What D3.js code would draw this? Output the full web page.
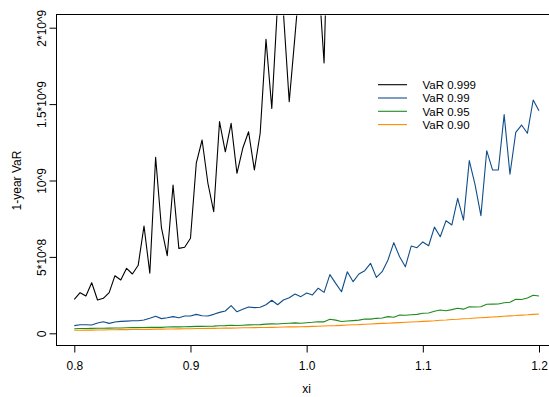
<!DOCTYPE html>
<html lang="en">
<head>
<meta charset="UTF-8">
<title>1-year VaR vs xi</title>
<script src="https://d3js.org/d3.v7.min.js"></script>
<style>
  body { margin: 0; background: #fff; }
  text { font-family: "Liberation Sans", Arial, sans-serif; fill: #000; }
</style>
</head>
<body>
<script>
// x grid (xi)
const xi = [0.800,0.805,0.810,0.815,0.820,0.825,0.830,0.835,0.840,0.845,
            0.850,0.855,0.860,0.865,0.870,0.875,0.880,0.885,0.890,0.895,
            0.900,0.905,0.910,0.915,0.920,0.925,0.930,0.935,0.940,0.945,
            0.950,0.955,0.960,0.965,0.970,0.975,0.980,0.985,0.990,0.995,
            1.000,1.005,1.010,1.015,1.020,1.025,1.030,1.035,1.040,1.045,
            1.050,1.055,1.060,1.065,1.070,1.075,1.080,1.085,1.090,1.095,
            1.100,1.105,1.110,1.115,1.120,1.125,1.130,1.135,1.140,1.145,
            1.150,1.155,1.160,1.165,1.170,1.175,1.180,1.185,1.190,1.195,
            1.200];

// VaR values, in units of 10^8
const var999 = [2.22,2.66,2.44,3.31,2.18,2.29,2.66,3.77,3.49,4.25,
                3.88,4.45,7.02,3.93,11.52,6.91,5.08,9.71,5.56,5.63,
                6.22,11.13,12.65,9.82,7.96,13.85,11.88,13.74,10.47,12.11,
                13.19,10.69,13.09,19.24,14.72,21.6,21.0,15.16,19.5,24.0,
                25.0,26.0,23.5,17.7,32.0,30,35,31,38,34,
                40,37,44,39,47,42,50,45,55,48,
                58,52,62,56,66,60,70,64,75,68,
                80,72,85,77,90,82,96,88,102,94,
                110];
const var99 = [0.50,0.56,0.56,0.54,0.67,0.76,0.65,0.74,0.78,0.80,
               0.82,0.82,0.87,0.98,1.11,0.96,1.02,1.09,1.02,1.13,
               1.13,1.24,1.15,1.13,1.24,1.37,1.46,1.81,1.41,1.57,
               1.72,1.68,1.70,1.87,2.16,1.87,2.18,2.33,2.57,2.40,
               2.64,2.51,2.95,2.68,3.84,3.27,2.72,4.03,3.38,3.88,
               4.10,4.58,3.66,4.03,4.80,5.93,5.01,4.36,5.71,5.60,
               5.98,5.73,6.95,6.32,7.37,7.09,8.83,7.41,11.30,9.71,
               7.70,11.95,10.69,10.69,14.31,10.41,13.15,13.63,13.09,15.27,
               14.57];
const var95 = [0.30,0.31,0.31,0.32,0.33,0.33,0.34,0.35,0.35,0.36,
               0.37,0.37,0.38,0.39,0.40,0.39,0.41,0.42,0.42,0.43,
               0.44,0.45,0.45,0.46,0.47,0.49,0.50,0.53,0.51,0.53,
               0.55,0.56,0.57,0.60,0.62,0.61,0.64,0.66,0.68,0.66,
               0.69,0.72,0.76,0.75,0.92,0.86,0.77,0.80,0.83,0.86,
               0.94,0.93,0.98,1.00,1.09,1.05,1.20,1.18,1.21,1.24,
               1.31,1.33,1.44,1.52,1.48,1.55,1.64,1.58,1.74,1.72,
               1.74,1.90,1.91,1.92,2.00,2.03,2.23,2.21,2.31,2.49,
               2.44];
const var90 = [0.20,0.20,0.21,0.21,0.22,0.22,0.23,0.23,0.24,0.24,
               0.25,0.25,0.26,0.26,0.27,0.27,0.28,0.28,0.29,0.30,
               0.30,0.31,0.31,0.32,0.32,0.33,0.34,0.34,0.35,0.36,
               0.36,0.37,0.38,0.38,0.39,0.40,0.41,0.42,0.42,0.43,
               0.44,0.45,0.46,0.48,0.49,0.50,0.52,0.54,0.56,0.57,
               0.59,0.61,0.63,0.65,0.66,0.68,0.70,0.72,0.74,0.76,
               0.78,0.80,0.82,0.85,0.87,0.90,0.92,0.95,0.97,1.00,
               1.02,1.04,1.07,1.09,1.12,1.14,1.16,1.19,1.21,1.24,
               1.26];
const unit = 1e8;

const seriesNames = ["VaR 0.999", "VaR 0.99", "VaR 0.95", "VaR 0.90"];
const seriesColors = ["#000000", "#104E8B", "#1E8B1E", "#FF8C00"];
const seriesValues = [var999, var99, var95, var90];

const xTicks = [0.8, 0.9, 1.0, 1.1, 1.2];
const yTicks = [0, 5e8, 1e9, 1.5e9, 2e9];
const yTickLabels = ["0", "5*10^8", "10^9", "1.5*10^9", "2*10^9"];

const width = 549, height = 397;

const x = d3.scaleLinear().domain([0.8, 1.2]).range([74.3, 539]);
const y = d3.scaleLinear().domain([0, 2e9]).range([333.3, 27.7]);

// plot region, R style 4% extension
const plotLeft = x(0.784), plotRight = x(1.216);
const plotBottom = y(-0.08e9), plotTop = y(2.08e9);

const svg = d3.select("body").append("svg")
    .attr("width", width)
    .attr("height", height);

svg.append("defs").append("clipPath")
    .attr("id", "plot-clip")
    .append("rect")
    .attr("x", plotLeft).attr("y", plotTop)
    .attr("width", plotRight - plotLeft).attr("height", plotBottom - plotTop);

// lines
const line = d3.line()
    .x((d, i) => x(xi[i]))
    .y(d => y(d * unit));

const lines = svg.append("g").attr("clip-path", "url(#plot-clip)");
seriesValues.forEach(function(vals, k) {
    lines.append("path")
        .datum(vals)
        .attr("fill", "none")
        .attr("stroke", seriesColors[k])
        .attr("stroke-width", 1.1)
        .attr("stroke-linejoin", "round")
        .attr("d", line);
});

// box
svg.append("rect")
    .attr("x", Math.round(plotLeft) + 0.5)
    .attr("y", Math.round(plotTop) - 0.5)
    .attr("width", plotRight - plotLeft)
    .attr("height", Math.round(plotBottom) - Math.round(plotTop))
    .attr("fill", "none")
    .attr("stroke", "#000");

// x axis
const xAxis = svg.append("g")
    .attr("transform", "translate(0," + (Math.round(plotBottom) - 0.5) + ")")
    .call(d3.axisBottom(x).tickValues(xTicks).tickSize(7).tickPadding(9)
        .tickFormat(d3.format(".1f")));
xAxis.select(".domain").remove();
xAxis.selectAll("text").style("font-size", "12px");

// y axis
const yAxis = svg.append("g")
    .attr("transform", "translate(" + (Math.round(plotLeft) + 0.5) + ",0)")
    .call(d3.axisLeft(y).tickValues(yTicks).tickSize(7)
        .tickFormat((d, i) => yTickLabels[i]));
yAxis.select(".domain").remove();
yAxis.selectAll("text")
    .attr("x", null)
    .attr("dy", null)
    .attr("text-anchor", "middle")
    .attr("transform", "translate(-11,0) rotate(-90)")
    .style("font-size", "12px");

// axis titles
svg.append("text")
    .attr("x", (plotLeft + plotRight) / 2)
    .attr("y", 393)
    .attr("text-anchor", "middle")
    .style("font-size", "12px")
    .text("xi");

svg.append("text")
    .attr("transform", "translate(20.5," + ((plotTop + plotBottom) / 2) + ") rotate(-90)")
    .attr("text-anchor", "middle")
    .style("font-size", "12px")
    .text("1-year VaR");

// legend
const legend = svg.append("g");
seriesNames.forEach(function(name, k) {
    const ly = 84.7 + k * 13.3;
    legend.append("line")
        .attr("x1", 378).attr("x2", 407)
        .attr("y1", ly).attr("y2", ly)
        .attr("stroke", seriesColors[k])
        .attr("stroke-width", 1.1);
    legend.append("text")
        .attr("x", 422.5)
        .attr("y", ly + 4.2)
        .style("font-size", "11.5px")
        .text(name);
});
</script>
</body>
</html>
